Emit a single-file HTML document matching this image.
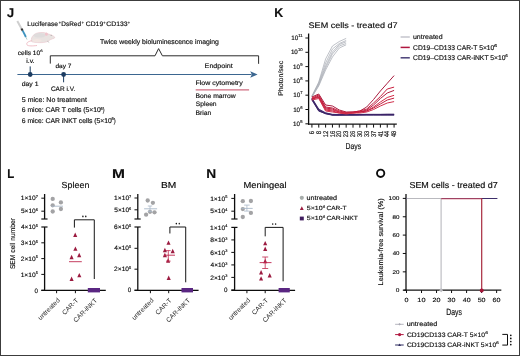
<!DOCTYPE html>
<html><head><meta charset="utf-8"><title>Figure</title>
<style>html,body{margin:0;padding:0;background:#fff;}body{width:520px;height:356px;overflow:hidden;}svg{display:block;}text{font-family:"Liberation Sans", sans-serif;text-rendering:geometricPrecision;}</style>
</head><body>
<svg width="520" height="356" viewBox="0 0 520 356" font-family='"Liberation Sans", sans-serif'>
<rect x="0" y="0" width="520" height="356" fill="#fff"/>
<defs><filter id="soft" x="-2%" y="-2%" width="104%" height="104%"><feGaussianBlur stdDeviation="0.3"/></filter></defs>
<g filter="url(#soft)">
<text x="6.91" y="17.00" textLength="7.14" lengthAdjust="spacingAndGlyphs" font-size="12.60" font-weight="bold" fill="#0d0d0d" stroke="#0d0d0d" stroke-width="0.15">J</text>
<line x1="17.30" y1="21.00" x2="21.40" y2="28.40" stroke="#cfcfcf" stroke-width="2.0"/>
<line x1="21.40" y1="28.40" x2="22.70" y2="30.70" stroke="#333" stroke-width="2.0"/>
<line x1="22.70" y1="30.70" x2="25.90" y2="37.00" stroke="#3d93bf" stroke-width="1.8"/>
<line x1="25.90" y1="37.00" x2="27.00" y2="39.60" stroke="#8aa" stroke-width="0.6"/>
<path d="M31.3,41 C30.8,36.5 34.5,32.8 40.3,32.5 C44,32.3 46.5,33 48.5,34 C50.5,34.5 53.5,35.8 54.8,37.2 C55,38 53.8,38.6 52.5,38.8 C51,39.3 49.5,40 48.5,41 C46,42.6 42,42.8 38,42.6 C34,42.4 31.5,42 31.3,41 Z" fill="#e9e3e1" stroke="#e9bcc4" stroke-width="0.5"/>
<ellipse cx="39.5" cy="35.3" rx="6" ry="2.3" fill="#dcdadb" opacity="0.8"/>
<ellipse cx="37" cy="40.6" rx="4.5" ry="1.6" fill="#f3e6e2" opacity="0.9"/>
<ellipse cx="46.4" cy="34.2" rx="1.4" ry="1.6" fill="#f0c4cc"/>
<circle cx="51.2" cy="35.3" r="0.55" fill="#9a9a9a"/>
<path d="M47.3,41.2 L49.2,42.4" stroke="#a8a8a8" stroke-width="0.6"/>
<path d="M31.5,40.8 C28,41.5 26,43 27,44.8 C28,46.3 33,46 37,45.5" fill="none" stroke="#e9a6b2" stroke-width="0.7"/>
<text x="27.37" y="26.30" textLength="30.62" lengthAdjust="spacingAndGlyphs" font-size="6.50" stroke="#262626" stroke-width="0.15">Luciferase</text>
<text x="58.80" y="23.60" textLength="2.29" lengthAdjust="spacingAndGlyphs" font-size="4.00" stroke="#262626" stroke-width="0.15">+</text>
<text x="61.28" y="26.30" textLength="19.75" lengthAdjust="spacingAndGlyphs" font-size="6.50" stroke="#262626" stroke-width="0.15">DsRed</text>
<text x="81.81" y="23.60" textLength="2.17" lengthAdjust="spacingAndGlyphs" font-size="4.00" stroke="#262626" stroke-width="0.15">+</text>
<text x="85.76" y="26.30" textLength="17.46" lengthAdjust="spacingAndGlyphs" font-size="6.50" stroke="#262626" stroke-width="0.15">CD19</text>
<text x="103.30" y="23.60" textLength="2.29" lengthAdjust="spacingAndGlyphs" font-size="4.00" stroke="#262626" stroke-width="0.15">+</text>
<text x="106.26" y="26.30" textLength="21.37" lengthAdjust="spacingAndGlyphs" font-size="6.50" stroke="#262626" stroke-width="0.15">CD133</text>
<text x="127.70" y="23.60" textLength="2.29" lengthAdjust="spacingAndGlyphs" font-size="4.00" stroke="#262626" stroke-width="0.15">+</text>
<text x="99.96" y="43.80" textLength="118.90" lengthAdjust="spacingAndGlyphs" font-size="6.80" stroke="#262626" stroke-width="0.15">Twice weekly bioluminescence imaging</text>
<polyline points="50.30,63.60 50.30,55.80 155.00,55.80 158.60,48.60 162.40,55.80 258.60,55.80 258.60,63.80" fill="none" stroke="#2c2c2c" stroke-width="1.0"/>
<text x="17.70" y="54.80" textLength="22.47" lengthAdjust="spacingAndGlyphs" font-size="6.30" stroke="#262626" stroke-width="0.15">cells 10</text>
<text x="40.28" y="52.00" textLength="2.42" lengthAdjust="spacingAndGlyphs" font-size="3.40" stroke="#262626" stroke-width="0.15">6</text>
<text x="26.25" y="62.70" textLength="8.29" lengthAdjust="spacingAndGlyphs" font-size="6.30" stroke="#262626" stroke-width="0.15">i.v.</text>
<text x="55.44" y="67.70" textLength="16.00" lengthAdjust="spacingAndGlyphs" font-size="6.10" stroke="#262626" stroke-width="0.15">day 7</text>
<text x="204.63" y="67.70" textLength="28.13" lengthAdjust="spacingAndGlyphs" font-size="6.60" stroke="#262626" stroke-width="0.15">Endpoint</text>
<line x1="17.40" y1="74.50" x2="251.50" y2="74.50" stroke="#3b6690" stroke-width="1.15"/>
<polygon points="257.6,74.5 250.2,71.3 251.8,74.5 250.2,77.7" fill="#3b6690"/>
<line x1="30.20" y1="66.40" x2="30.20" y2="74.40" stroke="#1f3d62" stroke-width="1.0"/>
<line x1="63.60" y1="74.40" x2="63.60" y2="82.30" stroke="#1f3d62" stroke-width="1.0"/>
<circle cx="30.20" cy="74.50" r="2.4" fill="#1f3d62"/>
<circle cx="63.60" cy="74.50" r="2.4" fill="#1f3d62"/>
<text x="21.72" y="85.50" textLength="16.83" lengthAdjust="spacingAndGlyphs" font-size="6.30" stroke="#262626" stroke-width="0.15">day 1</text>
<text x="50.88" y="91.30" textLength="24.32" lengthAdjust="spacingAndGlyphs" font-size="6.60" stroke="#262626" stroke-width="0.15">CAR i.V.</text>
<text x="195.44" y="84.90" textLength="47.29" lengthAdjust="spacingAndGlyphs" font-size="6.50" stroke="#262626" stroke-width="0.15">Flow cytometry</text>
<line x1="195.70" y1="89.80" x2="249.10" y2="89.80" stroke="#cf6c80" stroke-width="1.3"/>
<text x="195.46" y="98.40" textLength="40.32" lengthAdjust="spacingAndGlyphs" font-size="6.50" stroke="#262626" stroke-width="0.15">Bone marrow</text>
<text x="195.70" y="106.40" textLength="20.93" lengthAdjust="spacingAndGlyphs" font-size="6.50" stroke="#262626" stroke-width="0.15">Spleen</text>
<text x="195.45" y="114.60" textLength="15.99" lengthAdjust="spacingAndGlyphs" font-size="6.50" stroke="#262626" stroke-width="0.15">Brian</text>
<text x="21.82" y="101.70" textLength="65.03" lengthAdjust="spacingAndGlyphs" font-size="6.80" stroke="#262626" stroke-width="0.15">5 mice: No treatment</text>
<text x="21.76" y="112.30" textLength="79.13" lengthAdjust="spacingAndGlyphs" font-size="6.80" stroke="#262626" stroke-width="0.15">6 mice: CAR T cells (5×10</text>
<text x="100.60" y="110.00" textLength="2.18" lengthAdjust="spacingAndGlyphs" font-size="4.20" stroke="#262626" stroke-width="0.15">6</text>
<text x="102.65" y="112.30" textLength="1.79" lengthAdjust="spacingAndGlyphs" font-size="6.80" stroke="#262626" stroke-width="0.15">)</text>
<text x="21.76" y="122.70" textLength="90.12" lengthAdjust="spacingAndGlyphs" font-size="6.80" stroke="#262626" stroke-width="0.15">6 mice: CAR iNKT cells (5×10</text>
<text x="111.59" y="120.40" textLength="2.30" lengthAdjust="spacingAndGlyphs" font-size="4.20" stroke="#262626" stroke-width="0.15">6</text>
<text x="113.64" y="122.70" textLength="1.92" lengthAdjust="spacingAndGlyphs" font-size="6.80" stroke="#262626" stroke-width="0.15">)</text>
<text x="274.19" y="17.20" textLength="8.96" lengthAdjust="spacingAndGlyphs" font-size="12.60" font-weight="bold" fill="#0d0d0d" stroke="#0d0d0d" stroke-width="0.15">K</text>
<text x="308.59" y="27.60" textLength="88.98" lengthAdjust="spacingAndGlyphs" font-size="8.10" stroke="#262626" stroke-width="0.15">SEM cells - treated d7</text>
<line x1="308.60" y1="33.50" x2="308.60" y2="124.80" stroke="#111" stroke-width="1.3"/>
<line x1="308.00" y1="124.20" x2="396.80" y2="124.20" stroke="#111" stroke-width="1.3"/>
<line x1="305.40" y1="38.00" x2="308.60" y2="38.00" stroke="#111" stroke-width="1.0"/>
<text x="298.26" y="37.00" textLength="4.36" lengthAdjust="spacingAndGlyphs" font-size="4.20" stroke="#262626" stroke-width="0.15">11</text>
<text x="291.24" y="40.10" textLength="7.01" lengthAdjust="spacingAndGlyphs" font-size="6.30" stroke="#262626" stroke-width="0.15">10</text>
<line x1="305.40" y1="52.30" x2="308.60" y2="52.30" stroke="#111" stroke-width="1.0"/>
<text x="297.91" y="51.30" textLength="4.67" lengthAdjust="spacingAndGlyphs" font-size="4.20" stroke="#262626" stroke-width="0.15">10</text>
<text x="290.88" y="54.40" textLength="7.01" lengthAdjust="spacingAndGlyphs" font-size="6.30" stroke="#262626" stroke-width="0.15">10</text>
<line x1="305.40" y1="66.60" x2="308.60" y2="66.60" stroke="#111" stroke-width="1.0"/>
<text x="300.26" y="65.60" textLength="2.34" lengthAdjust="spacingAndGlyphs" font-size="4.20" stroke="#262626" stroke-width="0.15">9</text>
<text x="293.11" y="68.70" textLength="7.01" lengthAdjust="spacingAndGlyphs" font-size="6.30" stroke="#262626" stroke-width="0.15">10</text>
<line x1="305.40" y1="80.90" x2="308.60" y2="80.90" stroke="#111" stroke-width="1.0"/>
<text x="300.24" y="79.90" textLength="2.34" lengthAdjust="spacingAndGlyphs" font-size="4.20" stroke="#262626" stroke-width="0.15">8</text>
<text x="293.08" y="83.00" textLength="7.01" lengthAdjust="spacingAndGlyphs" font-size="6.30" stroke="#262626" stroke-width="0.15">10</text>
<line x1="305.40" y1="95.20" x2="308.60" y2="95.20" stroke="#111" stroke-width="1.0"/>
<text x="300.28" y="94.20" textLength="2.34" lengthAdjust="spacingAndGlyphs" font-size="4.20" stroke="#262626" stroke-width="0.15">7</text>
<text x="293.15" y="97.30" textLength="7.01" lengthAdjust="spacingAndGlyphs" font-size="6.30" stroke="#262626" stroke-width="0.15">10</text>
<line x1="305.40" y1="109.50" x2="308.60" y2="109.50" stroke="#111" stroke-width="1.0"/>
<text x="300.26" y="108.50" textLength="2.34" lengthAdjust="spacingAndGlyphs" font-size="4.20" stroke="#262626" stroke-width="0.15">6</text>
<text x="293.13" y="111.60" textLength="7.01" lengthAdjust="spacingAndGlyphs" font-size="6.30" stroke="#262626" stroke-width="0.15">10</text>
<line x1="305.40" y1="123.80" x2="308.60" y2="123.80" stroke="#111" stroke-width="1.0"/>
<text x="300.24" y="122.80" textLength="2.34" lengthAdjust="spacingAndGlyphs" font-size="4.20" stroke="#262626" stroke-width="0.15">5</text>
<text x="293.06" y="125.90" textLength="7.01" lengthAdjust="spacingAndGlyphs" font-size="6.30" stroke="#262626" stroke-width="0.15">10</text>
<text x="-0.56" y="0" textLength="35.13" lengthAdjust="spacingAndGlyphs" transform="translate(283.00 95.30) rotate(-90)" font-size="6.70" stroke="#262626" stroke-width="0.15">Photon/sec</text>
<line x1="311.90" y1="124.20" x2="311.90" y2="127.60" stroke="#111" stroke-width="1.0"/>
<text x="-3.10" y="0" font-size="6.9" textLength="3.39" lengthAdjust="spacingAndGlyphs" transform="translate(314.01 131.1) rotate(-90)" fill="#262626" stroke="#262626" stroke-width="0.2">6</text>
<line x1="318.75" y1="124.20" x2="318.75" y2="127.60" stroke="#111" stroke-width="1.0"/>
<text x="-3.07" y="0" font-size="6.9" textLength="3.31" lengthAdjust="spacingAndGlyphs" transform="translate(320.87 131.1) rotate(-90)" fill="#262626" stroke="#262626" stroke-width="0.2">8</text>
<line x1="325.60" y1="124.20" x2="325.60" y2="127.60" stroke="#111" stroke-width="1.0"/>
<text x="-6.24" y="0" font-size="6.9" textLength="6.55" lengthAdjust="spacingAndGlyphs" transform="translate(327.71 131.1) rotate(-90)" fill="#262626" stroke="#262626" stroke-width="0.2">12</text>
<line x1="332.45" y1="124.20" x2="332.45" y2="127.60" stroke="#111" stroke-width="1.0"/>
<text x="-6.24" y="0" font-size="6.9" textLength="6.52" lengthAdjust="spacingAndGlyphs" transform="translate(334.56 131.1) rotate(-90)" fill="#262626" stroke="#262626" stroke-width="0.2">16</text>
<line x1="339.30" y1="124.20" x2="339.30" y2="127.60" stroke="#111" stroke-width="1.0"/>
<text x="-6.08" y="0" font-size="6.9" textLength="6.33" lengthAdjust="spacingAndGlyphs" transform="translate(341.41 131.1) rotate(-90)" fill="#262626" stroke="#262626" stroke-width="0.2">20</text>
<line x1="346.15" y1="124.20" x2="346.15" y2="127.60" stroke="#111" stroke-width="1.0"/>
<text x="-6.09" y="0" font-size="6.9" textLength="6.36" lengthAdjust="spacingAndGlyphs" transform="translate(348.26 131.1) rotate(-90)" fill="#262626" stroke="#262626" stroke-width="0.2">23</text>
<line x1="353.00" y1="124.20" x2="353.00" y2="127.60" stroke="#111" stroke-width="1.0"/>
<text x="-6.09" y="0" font-size="6.9" textLength="6.36" lengthAdjust="spacingAndGlyphs" transform="translate(355.12 131.1) rotate(-90)" fill="#262626" stroke="#262626" stroke-width="0.2">26</text>
<line x1="359.85" y1="124.20" x2="359.85" y2="127.60" stroke="#111" stroke-width="1.0"/>
<text x="-6.03" y="0" font-size="6.9" textLength="6.26" lengthAdjust="spacingAndGlyphs" transform="translate(361.96 131.1) rotate(-90)" fill="#262626" stroke="#262626" stroke-width="0.2">30</text>
<line x1="366.70" y1="124.20" x2="366.70" y2="127.60" stroke="#111" stroke-width="1.0"/>
<text x="-6.03" y="0" font-size="6.9" textLength="6.29" lengthAdjust="spacingAndGlyphs" transform="translate(368.81 131.1) rotate(-90)" fill="#262626" stroke="#262626" stroke-width="0.2">33</text>
<line x1="373.55" y1="124.20" x2="373.55" y2="127.60" stroke="#111" stroke-width="1.0"/>
<text x="-6.03" y="0" font-size="6.9" textLength="6.33" lengthAdjust="spacingAndGlyphs" transform="translate(375.66 131.1) rotate(-90)" fill="#262626" stroke="#262626" stroke-width="0.2">37</text>
<line x1="380.40" y1="124.20" x2="380.40" y2="127.60" stroke="#111" stroke-width="1.0"/>
<text x="-5.94" y="0" font-size="6.9" textLength="6.23" lengthAdjust="spacingAndGlyphs" transform="translate(382.51 131.1) rotate(-90)" fill="#262626" stroke="#262626" stroke-width="0.2">41</text>
<line x1="387.25" y1="124.20" x2="387.25" y2="127.60" stroke="#111" stroke-width="1.0"/>
<text x="-5.94" y="0" font-size="6.9" textLength="6.12" lengthAdjust="spacingAndGlyphs" transform="translate(389.37 131.1) rotate(-90)" fill="#262626" stroke="#262626" stroke-width="0.2">44</text>
<line x1="394.10" y1="124.20" x2="394.10" y2="127.60" stroke="#111" stroke-width="1.0"/>
<text x="-5.94" y="0" font-size="6.9" textLength="6.17" lengthAdjust="spacingAndGlyphs" transform="translate(396.21 131.1) rotate(-90)" fill="#262626" stroke="#262626" stroke-width="0.2">48</text>
<text x="345.45" y="148.80" textLength="15.68" lengthAdjust="spacingAndGlyphs" font-size="8.50" stroke="#262626" stroke-width="0.15">Days</text>
<polyline points="311.90,96.00 318.75,82.00 325.60,59.00 332.45,46.00 339.30,41.50 346.15,38.40" fill="none" stroke="#a9adb5" stroke-width="0.75"/>
<polyline points="311.90,96.50 318.75,83.00 325.60,63.00 332.45,49.00 339.30,43.50 346.15,40.50" fill="none" stroke="#a9adb5" stroke-width="0.75"/>
<polyline points="311.90,96.50 318.75,84.00 325.60,66.00 332.45,52.00 339.30,44.50 346.15,41.80" fill="none" stroke="#a9adb5" stroke-width="0.75"/>
<polyline points="311.90,97.00 318.75,85.00 325.60,68.00 332.45,54.00 339.30,46.00 346.15,43.50" fill="none" stroke="#a9adb5" stroke-width="0.75"/>
<polyline points="311.90,97.00 318.75,86.00 325.60,70.00 332.45,57.00 339.30,48.00 346.15,44.80" fill="none" stroke="#a9adb5" stroke-width="0.75"/>
<polyline points="311.90,98.00 318.75,109.00 325.60,112.80 332.45,114.30 339.30,114.50 346.15,114.40 353.00,114.50 359.85,114.40 366.70,114.30 373.55,114.30 380.40,114.30 387.25,114.20 394.10,114.20" fill="none" stroke="#3b2468" stroke-width="0.8"/>
<polyline points="311.90,98.50 318.75,109.60 325.60,113.00 332.45,114.60 339.30,114.70 346.15,114.70 353.00,114.60 359.85,114.50 366.70,114.50 373.55,114.50 380.40,114.50 387.25,114.40 394.10,114.40" fill="none" stroke="#3b2468" stroke-width="0.8"/>
<polyline points="311.90,99.00 318.75,110.20 325.60,113.30 332.45,114.80 339.30,114.90 346.15,114.70 353.00,114.80 359.85,114.70 366.70,114.60 373.55,114.60 380.40,114.60 387.25,114.60 394.10,114.60" fill="none" stroke="#3b2468" stroke-width="0.8"/>
<polyline points="311.90,99.50 318.75,110.80 325.60,113.60 332.45,115.00 339.30,115.00 346.15,114.90 353.00,114.90 359.85,114.80 366.70,114.80 373.55,114.80 380.40,114.70 387.25,114.80 394.10,114.80" fill="none" stroke="#3b2468" stroke-width="0.8"/>
<polyline points="311.90,100.00 318.75,111.20 325.60,113.40 332.45,114.90 339.30,115.10 346.15,115.00 353.00,115.00 359.85,115.00 366.70,114.90 373.55,114.90 380.40,115.00 387.25,114.90 394.10,114.90" fill="none" stroke="#3b2468" stroke-width="0.8"/>
<polyline points="311.90,99.00 318.75,110.50 325.60,113.80 332.45,115.20 339.30,115.10 346.15,115.10 353.00,115.10 359.85,115.00 366.70,115.00 373.55,115.00 380.40,115.00 387.25,115.00 394.10,115.00" fill="none" stroke="#3b2468" stroke-width="0.8"/>
<polyline points="311.90,97.00 318.75,94.00 325.60,105.00 332.45,106.00 339.30,110.00 346.15,112.00 353.00,112.00 359.85,111.00 366.70,107.00 373.55,99.50 380.40,91.00 387.25,83.30 394.10,75.60" fill="none" stroke="#a81c3e" stroke-width="1.0"/>
<polyline points="311.90,98.00 318.75,95.00 325.60,107.00 332.45,108.00 339.30,111.00 346.15,112.50 353.00,112.00 359.85,111.00 366.70,109.00 373.55,103.00 380.40,96.50 387.25,89.00 394.10,87.10" fill="none" stroke="#c8203f" stroke-width="1.0"/>
<polyline points="311.90,99.00 318.75,96.00 325.60,108.00 332.45,109.00 339.30,112.00 346.15,113.00 353.00,113.00 359.85,112.00 366.70,110.00 373.55,105.00 380.40,98.50 387.25,93.00 394.10,90.40" fill="none" stroke="#b01e40" stroke-width="1.0"/>
<polyline points="311.90,98.00 318.75,97.00 325.60,109.00 332.45,110.00 339.30,112.00 346.15,113.00 353.00,113.00 359.85,112.00 366.70,111.00 373.55,107.00 380.40,102.00 387.25,97.50 394.10,95.30" fill="none" stroke="#d42a48" stroke-width="1.0"/>
<polyline points="311.90,99.00 318.75,97.50 325.60,110.00 332.45,111.00 339.30,113.00 346.15,113.50 353.00,112.50 359.85,112.00 366.70,111.00 373.55,108.00 380.40,104.00 387.25,100.00 394.10,98.10" fill="none" stroke="#c21d3c" stroke-width="1.0"/>
<polyline points="311.90,100.00 318.75,98.50 325.60,111.00 332.45,112.00 339.30,113.00 346.15,114.00 353.00,113.00 359.85,113.00 366.70,112.00 373.55,109.50 380.40,106.00 387.25,103.00 394.10,101.60" fill="none" stroke="#d0304c" stroke-width="1.0"/>
<line x1="400.60" y1="37.00" x2="409.80" y2="37.00" stroke="#c4c4cc" stroke-width="1.5"/>
<line x1="400.60" y1="47.40" x2="409.80" y2="47.40" stroke="#b0173f" stroke-width="1.5"/>
<line x1="400.60" y1="57.80" x2="409.80" y2="57.80" stroke="#4a3f78" stroke-width="1.5"/>
<text x="412.94" y="38.80" textLength="29.72" lengthAdjust="spacingAndGlyphs" font-size="6.70" stroke="#262626" stroke-width="0.15">untreated</text>
<text x="413.06" y="49.70" textLength="81.31" lengthAdjust="spacingAndGlyphs" font-size="6.80" stroke="#262626" stroke-width="0.15">CD19–CD133 CAR-T 5×10</text>
<text x="494.12" y="46.60" textLength="3.14" lengthAdjust="spacingAndGlyphs" font-size="3.80" stroke="#262626" stroke-width="0.15">6</text>
<text x="413.06" y="59.80" textLength="92.43" lengthAdjust="spacingAndGlyphs" font-size="6.80" stroke="#262626" stroke-width="0.15">CD19–CD133 CAR-iNKT 5×10</text>
<text x="505.27" y="56.70" textLength="2.54" lengthAdjust="spacingAndGlyphs" font-size="3.80" stroke="#262626" stroke-width="0.15">6</text>
<text x="7.16" y="177.80" textLength="7.00" lengthAdjust="spacingAndGlyphs" font-size="12.60" font-weight="bold" fill="#0d0d0d" stroke="#0d0d0d" stroke-width="0.15">L</text>
<text x="61.60" y="188.10" textLength="27.77" lengthAdjust="spacingAndGlyphs" font-size="8.70" stroke="#262626" stroke-width="0.15">Spleen</text>
<line x1="44.60" y1="194.00" x2="44.60" y2="219.00" stroke="#111" stroke-width="1.3"/>
<line x1="41.30" y1="219.00" x2="47.50" y2="219.00" stroke="#111" stroke-width="1.2"/>
<line x1="41.30" y1="198.20" x2="44.60" y2="198.20" stroke="#111" stroke-width="1.0"/>
<text x="35.73" y="198.03" textLength="2.17" lengthAdjust="spacingAndGlyphs" font-size="3.90" stroke="#262626" stroke-width="0.15">7</text>
<text x="20.72" y="200.30" textLength="15.09" lengthAdjust="spacingAndGlyphs" font-size="6.30" stroke="#262626" stroke-width="0.15">1×10</text>
<line x1="41.30" y1="211.20" x2="44.60" y2="211.20" stroke="#111" stroke-width="1.0"/>
<text x="35.71" y="211.03" textLength="2.17" lengthAdjust="spacingAndGlyphs" font-size="3.90" stroke="#262626" stroke-width="0.15">6</text>
<text x="20.94" y="213.30" textLength="14.84" lengthAdjust="spacingAndGlyphs" font-size="6.30" stroke="#262626" stroke-width="0.15">5×10</text>
<line x1="44.60" y1="227.00" x2="44.60" y2="290.30" stroke="#111" stroke-width="1.3"/>
<line x1="41.30" y1="227.00" x2="47.50" y2="227.00" stroke="#111" stroke-width="1.2"/>
<text x="35.69" y="226.83" textLength="2.17" lengthAdjust="spacingAndGlyphs" font-size="3.90" stroke="#262626" stroke-width="0.15">5</text>
<text x="20.98" y="229.10" textLength="14.74" lengthAdjust="spacingAndGlyphs" font-size="6.30" stroke="#262626" stroke-width="0.15">4×10</text>
<line x1="41.30" y1="242.80" x2="44.60" y2="242.80" stroke="#111" stroke-width="1.0"/>
<text x="35.69" y="242.63" textLength="2.17" lengthAdjust="spacingAndGlyphs" font-size="3.90" stroke="#262626" stroke-width="0.15">5</text>
<text x="20.88" y="244.90" textLength="14.84" lengthAdjust="spacingAndGlyphs" font-size="6.30" stroke="#262626" stroke-width="0.15">3×10</text>
<line x1="41.30" y1="258.60" x2="44.60" y2="258.60" stroke="#111" stroke-width="1.0"/>
<text x="35.69" y="258.43" textLength="2.17" lengthAdjust="spacingAndGlyphs" font-size="3.90" stroke="#262626" stroke-width="0.15">5</text>
<text x="20.82" y="260.70" textLength="14.91" lengthAdjust="spacingAndGlyphs" font-size="6.30" stroke="#262626" stroke-width="0.15">2×10</text>
<line x1="41.30" y1="274.40" x2="44.60" y2="274.40" stroke="#111" stroke-width="1.0"/>
<text x="35.69" y="274.23" textLength="2.17" lengthAdjust="spacingAndGlyphs" font-size="3.90" stroke="#262626" stroke-width="0.15">5</text>
<text x="20.65" y="276.50" textLength="15.09" lengthAdjust="spacingAndGlyphs" font-size="6.30" stroke="#262626" stroke-width="0.15">1×10</text>
<line x1="41.30" y1="290.30" x2="44.60" y2="290.30" stroke="#111" stroke-width="1.0"/>
<text x="34.46" y="292.50" textLength="3.50" lengthAdjust="spacingAndGlyphs" font-size="6.30" stroke="#262626" stroke-width="0.15">0</text>
<line x1="41.30" y1="290.30" x2="105.80" y2="290.30" stroke="#111" stroke-width="1.3"/>
<line x1="56.60" y1="290.30" x2="56.60" y2="293.20" stroke="#111" stroke-width="1.0"/>
<line x1="75.40" y1="290.30" x2="75.40" y2="293.20" stroke="#111" stroke-width="1.0"/>
<text x="-27.46" y="0" font-size="6.6" transform="translate(60.00 301.0) rotate(-45)" fill="#262626">untreated</text>
<text x="-20.03" y="0" font-size="6.6" transform="translate(78.80 301.0) rotate(-45)" fill="#262626">CAR-T</text>
<text x="-30.66" y="0" font-size="6.6" transform="translate(97.60 301.0) rotate(-45)" fill="#262626">CAR-iNKT</text>
<circle cx="52.70" cy="198.90" r="2.15" fill="#a3a3a5"/>
<circle cx="60.90" cy="202.40" r="2.15" fill="#a3a3a5"/>
<circle cx="52.70" cy="205.30" r="2.15" fill="#a3a3a5"/>
<circle cx="60.90" cy="209.00" r="2.15" fill="#a3a3a5"/>
<circle cx="52.70" cy="211.50" r="2.15" fill="#a3a3a5"/>
<line x1="51.40" y1="206.20" x2="63.00" y2="206.20" stroke="#a9b8c8" stroke-width="0.9"/>
<polygon points="73.15,236.90 77.25,236.90 75.20,232.50" fill="#9b1a3f"/>
<polygon points="73.35,250.80 77.45,250.80 75.40,246.40" fill="#9b1a3f"/>
<polygon points="77.15,257.20 81.25,257.20 79.20,252.80" fill="#9b1a3f"/>
<polygon points="69.55,259.20 73.65,259.20 71.60,254.80" fill="#9b1a3f"/>
<polygon points="77.25,277.30 81.35,277.30 79.30,272.90" fill="#9b1a3f"/>
<polygon points="69.55,280.90 73.65,280.90 71.60,276.50" fill="#9b1a3f"/>
<line x1="69.00" y1="261.70" x2="81.80" y2="261.70" stroke="#c0284e" stroke-width="0.9"/>
<polyline points="74.40,227.60 74.40,219.80 94.30,219.80 94.30,279.00" fill="none" stroke="#1a1a1a" stroke-width="1.0"/>
<ellipse cx="82.90" cy="216.40" rx="0.7" ry="0.85" fill="#111"/>
<ellipse cx="85.80" cy="216.40" rx="0.7" ry="0.85" fill="#111"/>
<rect x="87.80" y="288.0" width="12.20" height="4.4" fill="#5a2682"/>
<text x="112.09" y="177.80" textLength="12.97" lengthAdjust="spacingAndGlyphs" font-size="12.60" font-weight="bold" fill="#0d0d0d" stroke="#0d0d0d" stroke-width="0.15">M</text>
<text x="161.09" y="188.10" textLength="15.28" lengthAdjust="spacingAndGlyphs" font-size="8.70" stroke="#262626" stroke-width="0.15">BM</text>
<line x1="137.80" y1="194.00" x2="137.80" y2="219.00" stroke="#111" stroke-width="1.3"/>
<line x1="134.50" y1="219.00" x2="140.70" y2="219.00" stroke="#111" stroke-width="1.2"/>
<line x1="134.50" y1="198.00" x2="137.80" y2="198.00" stroke="#111" stroke-width="1.0"/>
<text x="129.03" y="197.83" textLength="2.17" lengthAdjust="spacingAndGlyphs" font-size="3.90" stroke="#262626" stroke-width="0.15">7</text>
<text x="114.02" y="200.10" textLength="15.09" lengthAdjust="spacingAndGlyphs" font-size="6.30" stroke="#262626" stroke-width="0.15">1×10</text>
<line x1="134.50" y1="209.80" x2="137.80" y2="209.80" stroke="#111" stroke-width="1.0"/>
<text x="129.01" y="209.63" textLength="2.17" lengthAdjust="spacingAndGlyphs" font-size="3.90" stroke="#262626" stroke-width="0.15">6</text>
<text x="114.24" y="211.90" textLength="14.84" lengthAdjust="spacingAndGlyphs" font-size="6.30" stroke="#262626" stroke-width="0.15">5×10</text>
<line x1="137.80" y1="227.00" x2="137.80" y2="290.30" stroke="#111" stroke-width="1.3"/>
<line x1="134.50" y1="227.00" x2="140.70" y2="227.00" stroke="#111" stroke-width="1.2"/>
<text x="128.99" y="226.83" textLength="2.17" lengthAdjust="spacingAndGlyphs" font-size="3.90" stroke="#262626" stroke-width="0.15">5</text>
<text x="114.12" y="229.10" textLength="14.91" lengthAdjust="spacingAndGlyphs" font-size="6.30" stroke="#262626" stroke-width="0.15">6×10</text>
<line x1="134.50" y1="248.30" x2="137.80" y2="248.30" stroke="#111" stroke-width="1.0"/>
<text x="128.99" y="248.13" textLength="2.17" lengthAdjust="spacingAndGlyphs" font-size="3.90" stroke="#262626" stroke-width="0.15">5</text>
<text x="114.28" y="250.40" textLength="14.74" lengthAdjust="spacingAndGlyphs" font-size="6.30" stroke="#262626" stroke-width="0.15">4×10</text>
<line x1="134.50" y1="269.20" x2="137.80" y2="269.20" stroke="#111" stroke-width="1.0"/>
<text x="128.99" y="269.03" textLength="2.17" lengthAdjust="spacingAndGlyphs" font-size="3.90" stroke="#262626" stroke-width="0.15">5</text>
<text x="114.12" y="271.30" textLength="14.91" lengthAdjust="spacingAndGlyphs" font-size="6.30" stroke="#262626" stroke-width="0.15">2×10</text>
<line x1="134.50" y1="290.20" x2="137.80" y2="290.20" stroke="#111" stroke-width="1.0"/>
<text x="127.76" y="292.40" textLength="3.50" lengthAdjust="spacingAndGlyphs" font-size="6.30" stroke="#262626" stroke-width="0.15">0</text>
<line x1="134.50" y1="290.30" x2="198.60" y2="290.30" stroke="#111" stroke-width="1.3"/>
<line x1="150.40" y1="290.30" x2="150.40" y2="293.20" stroke="#111" stroke-width="1.0"/>
<line x1="168.70" y1="290.30" x2="168.70" y2="293.20" stroke="#111" stroke-width="1.0"/>
<text x="-27.46" y="0" font-size="6.6" transform="translate(153.80 301.0) rotate(-45)" fill="#262626">untreated</text>
<text x="-20.03" y="0" font-size="6.6" transform="translate(172.10 301.0) rotate(-45)" fill="#262626">CAR-T</text>
<text x="-30.66" y="0" font-size="6.6" transform="translate(190.40 301.0) rotate(-45)" fill="#262626">CAR-iNKT</text>
<circle cx="147.70" cy="200.50" r="2.15" fill="#a3a3a5"/>
<circle cx="152.90" cy="202.80" r="2.15" fill="#a3a3a5"/>
<circle cx="150.00" cy="211.80" r="2.15" fill="#a3a3a5"/>
<circle cx="154.50" cy="212.30" r="2.15" fill="#a3a3a5"/>
<circle cx="146.10" cy="214.70" r="2.15" fill="#a3a3a5"/>
<line x1="144.10" y1="208.80" x2="157.10" y2="208.80" stroke="#a9b8c8" stroke-width="0.9"/>
<line x1="150.00" y1="206.00" x2="150.00" y2="211.50" stroke="#a9b8c8" stroke-width="0.8"/>
<line x1="147.80" y1="206.00" x2="152.20" y2="206.00" stroke="#a9b8c8" stroke-width="0.8"/>
<line x1="147.80" y1="211.50" x2="152.20" y2="211.50" stroke="#a9b8c8" stroke-width="0.8"/>
<polygon points="166.45,244.80 170.55,244.80 168.50,240.40" fill="#9b1a3f"/>
<polygon points="162.85,252.20 166.95,252.20 164.90,247.80" fill="#9b1a3f"/>
<polygon points="170.65,253.20 174.75,253.20 172.70,248.80" fill="#9b1a3f"/>
<polygon points="162.85,257.20 166.95,257.20 164.90,252.80" fill="#9b1a3f"/>
<polygon points="166.05,262.70 170.15,262.70 168.10,258.30" fill="#9b1a3f"/>
<polygon points="166.65,280.00 170.75,280.00 168.70,275.60" fill="#9b1a3f"/>
<line x1="163.80" y1="255.20" x2="175.00" y2="255.20" stroke="#c0284e" stroke-width="0.9"/>
<line x1="168.30" y1="250.60" x2="168.30" y2="261.10" stroke="#c0284e" stroke-width="0.8"/>
<line x1="166.00" y1="250.60" x2="170.60" y2="250.60" stroke="#c0284e" stroke-width="0.8"/>
<line x1="166.00" y1="261.10" x2="170.60" y2="261.10" stroke="#c0284e" stroke-width="0.8"/>
<polyline points="169.90,233.50 169.90,227.00 185.70,227.00 185.70,282.30" fill="none" stroke="#1a1a1a" stroke-width="1.0"/>
<ellipse cx="176.35" cy="223.60" rx="0.7" ry="0.85" fill="#111"/>
<ellipse cx="179.25" cy="223.60" rx="0.7" ry="0.85" fill="#111"/>
<rect x="181.50" y="288.0" width="11.50" height="4.4" fill="#5a2682"/>
<text x="206.21" y="177.80" textLength="9.91" lengthAdjust="spacingAndGlyphs" font-size="12.60" font-weight="bold" fill="#0d0d0d" stroke="#0d0d0d" stroke-width="0.15">N</text>
<text x="243.55" y="188.10" textLength="43.10" lengthAdjust="spacingAndGlyphs" font-size="8.70" stroke="#262626" stroke-width="0.15">Meningeal</text>
<line x1="234.60" y1="194.00" x2="234.60" y2="219.00" stroke="#111" stroke-width="1.3"/>
<line x1="231.30" y1="219.00" x2="237.50" y2="219.00" stroke="#111" stroke-width="1.2"/>
<line x1="231.30" y1="198.40" x2="234.60" y2="198.40" stroke="#111" stroke-width="1.0"/>
<text x="225.19" y="198.23" textLength="2.17" lengthAdjust="spacingAndGlyphs" font-size="3.90" stroke="#262626" stroke-width="0.15">5</text>
<text x="210.15" y="200.50" textLength="15.09" lengthAdjust="spacingAndGlyphs" font-size="6.30" stroke="#262626" stroke-width="0.15">1×10</text>
<line x1="231.30" y1="211.20" x2="234.60" y2="211.20" stroke="#111" stroke-width="1.0"/>
<text x="225.15" y="211.03" textLength="2.17" lengthAdjust="spacingAndGlyphs" font-size="3.90" stroke="#262626" stroke-width="0.15">4</text>
<text x="210.29" y="213.30" textLength="14.84" lengthAdjust="spacingAndGlyphs" font-size="6.30" stroke="#262626" stroke-width="0.15">5×10</text>
<line x1="234.60" y1="227.40" x2="234.60" y2="290.30" stroke="#111" stroke-width="1.3"/>
<line x1="231.30" y1="227.40" x2="237.50" y2="227.40" stroke="#111" stroke-width="1.2"/>
<text x="225.15" y="227.23" textLength="2.17" lengthAdjust="spacingAndGlyphs" font-size="3.90" stroke="#262626" stroke-width="0.15">4</text>
<text x="210.05" y="229.50" textLength="15.09" lengthAdjust="spacingAndGlyphs" font-size="6.30" stroke="#262626" stroke-width="0.15">1×10</text>
<line x1="231.30" y1="239.90" x2="234.60" y2="239.90" stroke="#111" stroke-width="1.0"/>
<text x="225.21" y="239.73" textLength="2.17" lengthAdjust="spacingAndGlyphs" font-size="3.90" stroke="#262626" stroke-width="0.15">3</text>
<text x="210.37" y="242.00" textLength="14.88" lengthAdjust="spacingAndGlyphs" font-size="6.30" stroke="#262626" stroke-width="0.15">8×10</text>
<line x1="231.30" y1="252.40" x2="234.60" y2="252.40" stroke="#111" stroke-width="1.0"/>
<text x="225.21" y="252.23" textLength="2.17" lengthAdjust="spacingAndGlyphs" font-size="3.90" stroke="#262626" stroke-width="0.15">3</text>
<text x="210.34" y="254.50" textLength="14.91" lengthAdjust="spacingAndGlyphs" font-size="6.30" stroke="#262626" stroke-width="0.15">6×10</text>
<line x1="231.30" y1="264.90" x2="234.60" y2="264.90" stroke="#111" stroke-width="1.0"/>
<text x="225.21" y="264.73" textLength="2.17" lengthAdjust="spacingAndGlyphs" font-size="3.90" stroke="#262626" stroke-width="0.15">3</text>
<text x="210.50" y="267.00" textLength="14.74" lengthAdjust="spacingAndGlyphs" font-size="6.30" stroke="#262626" stroke-width="0.15">4×10</text>
<line x1="231.30" y1="277.40" x2="234.60" y2="277.40" stroke="#111" stroke-width="1.0"/>
<text x="225.21" y="277.23" textLength="2.17" lengthAdjust="spacingAndGlyphs" font-size="3.90" stroke="#262626" stroke-width="0.15">3</text>
<text x="210.34" y="279.50" textLength="14.91" lengthAdjust="spacingAndGlyphs" font-size="6.30" stroke="#262626" stroke-width="0.15">2×10</text>
<line x1="231.30" y1="289.90" x2="234.60" y2="289.90" stroke="#111" stroke-width="1.0"/>
<text x="223.96" y="292.10" textLength="3.50" lengthAdjust="spacingAndGlyphs" font-size="6.30" stroke="#262626" stroke-width="0.15">0</text>
<line x1="231.30" y1="290.30" x2="295.10" y2="290.30" stroke="#111" stroke-width="1.3"/>
<line x1="246.90" y1="290.30" x2="246.90" y2="293.20" stroke="#111" stroke-width="1.0"/>
<line x1="265.20" y1="290.30" x2="265.20" y2="293.20" stroke="#111" stroke-width="1.0"/>
<text x="-27.46" y="0" font-size="6.6" transform="translate(250.30 301.0) rotate(-45)" fill="#262626">untreated</text>
<text x="-20.03" y="0" font-size="6.6" transform="translate(268.60 301.0) rotate(-45)" fill="#262626">CAR-T</text>
<text x="-30.66" y="0" font-size="6.6" transform="translate(286.90 301.0) rotate(-45)" fill="#262626">CAR-iNKT</text>
<circle cx="242.80" cy="201.20" r="2.15" fill="#a3a3a5"/>
<circle cx="250.90" cy="201.00" r="2.15" fill="#a3a3a5"/>
<circle cx="242.80" cy="209.10" r="2.15" fill="#a3a3a5"/>
<circle cx="250.90" cy="212.90" r="2.15" fill="#a3a3a5"/>
<circle cx="242.80" cy="217.00" r="2.15" fill="#a3a3a5"/>
<line x1="241.50" y1="208.40" x2="252.70" y2="208.40" stroke="#a9b8c8" stroke-width="0.9"/>
<line x1="246.90" y1="205.10" x2="246.90" y2="211.10" stroke="#a9b8c8" stroke-width="0.8"/>
<line x1="244.10" y1="205.10" x2="249.70" y2="205.10" stroke="#a9b8c8" stroke-width="0.8"/>
<line x1="244.10" y1="211.10" x2="249.70" y2="211.10" stroke="#a9b8c8" stroke-width="0.8"/>
<polygon points="263.15,245.30 267.25,245.30 265.20,240.90" fill="#9b1a3f"/>
<polygon points="263.15,250.90 267.25,250.90 265.20,246.50" fill="#9b1a3f"/>
<polygon points="263.15,263.20 267.25,263.20 265.20,258.80" fill="#9b1a3f"/>
<polygon points="259.05,274.50 263.15,274.50 261.10,270.10" fill="#9b1a3f"/>
<polygon points="267.65,277.40 271.75,277.40 269.70,273.00" fill="#9b1a3f"/>
<polygon points="259.05,280.60 263.15,280.60 261.10,276.20" fill="#9b1a3f"/>
<line x1="259.60" y1="262.60" x2="271.50" y2="262.60" stroke="#c0284e" stroke-width="0.9"/>
<line x1="265.20" y1="257.00" x2="265.20" y2="268.50" stroke="#c0284e" stroke-width="0.8"/>
<line x1="262.20" y1="257.00" x2="268.20" y2="257.00" stroke="#c0284e" stroke-width="0.8"/>
<line x1="262.20" y1="268.50" x2="268.20" y2="268.50" stroke="#c0284e" stroke-width="0.8"/>
<polyline points="265.20,236.30 265.20,227.40 283.10,227.40 283.10,281.30" fill="none" stroke="#1a1a1a" stroke-width="1.0"/>
<ellipse cx="272.70" cy="224.00" rx="0.7" ry="0.85" fill="#111"/>
<ellipse cx="275.60" cy="224.00" rx="0.7" ry="0.85" fill="#111"/>
<rect x="278.60" y="288.0" width="11.20" height="4.4" fill="#5a2682"/>
<text x="-0.30" y="0" textLength="51.03" lengthAdjust="spacingAndGlyphs" transform="translate(14.80 268.80) rotate(-90)" font-size="7.00" stroke="#262626" stroke-width="0.15">SEM cell number</text>
<circle cx="301.80" cy="197.80" r="2.1" fill="#a7adab"/>
<polygon points="299.90,210.05 303.70,210.05 301.80,206.35" fill="#9b1a3f"/>
<rect x="299.8" y="216.6" width="4.0" height="3.8" fill="#3f1f5e"/>
<text x="306.53" y="199.60" textLength="30.44" lengthAdjust="spacingAndGlyphs" font-size="6.60" stroke="#262626" stroke-width="0.15">untreated</text>
<text x="306.72" y="210.00" textLength="15.88" lengthAdjust="spacingAndGlyphs" font-size="6.00" stroke="#262626" stroke-width="0.15">5×10</text>
<text x="323.00" y="207.60" textLength="2.18" lengthAdjust="spacingAndGlyphs" font-size="3.70" stroke="#262626" stroke-width="0.15">6</text>
<text x="326.47" y="210.00" textLength="20.06" lengthAdjust="spacingAndGlyphs" font-size="6.00" stroke="#262626" stroke-width="0.15">CAR-T</text>
<text x="306.72" y="219.90" textLength="15.88" lengthAdjust="spacingAndGlyphs" font-size="6.00" stroke="#262626" stroke-width="0.15">5×10</text>
<text x="323.00" y="217.50" textLength="2.18" lengthAdjust="spacingAndGlyphs" font-size="3.70" stroke="#262626" stroke-width="0.15">6</text>
<text x="326.46" y="219.90" textLength="31.38" lengthAdjust="spacingAndGlyphs" font-size="6.00" stroke="#262626" stroke-width="0.15">CAR-iNKT</text>
<circle cx="380.65" cy="173.3" r="3.65" fill="none" stroke="#0d0d0d" stroke-width="1.9"/>
<text x="409.40" y="188.40" textLength="88.38" lengthAdjust="spacingAndGlyphs" font-size="8.60" stroke="#262626" stroke-width="0.15">SEM cells - treated d7</text>
<line x1="406.00" y1="194.00" x2="406.00" y2="290.80" stroke="#111" stroke-width="1.3"/>
<line x1="403.40" y1="290.20" x2="501.30" y2="290.20" stroke="#111" stroke-width="1.3"/>
<line x1="402.80" y1="198.40" x2="406.00" y2="198.40" stroke="#111" stroke-width="1.0"/>
<text x="388.61" y="200.30" textLength="10.87" lengthAdjust="spacingAndGlyphs" font-size="5.50" stroke="#262626" stroke-width="0.15">100</text>
<line x1="402.80" y1="216.76" x2="406.00" y2="216.76" stroke="#111" stroke-width="1.0"/>
<text x="392.52" y="218.66" textLength="6.95" lengthAdjust="spacingAndGlyphs" font-size="5.50" stroke="#262626" stroke-width="0.15">80</text>
<line x1="402.80" y1="235.12" x2="406.00" y2="235.12" stroke="#111" stroke-width="1.0"/>
<text x="392.49" y="237.02" textLength="6.98" lengthAdjust="spacingAndGlyphs" font-size="5.50" stroke="#262626" stroke-width="0.15">60</text>
<line x1="402.80" y1="253.48" x2="406.00" y2="253.48" stroke="#111" stroke-width="1.0"/>
<text x="392.65" y="255.38" textLength="6.81" lengthAdjust="spacingAndGlyphs" font-size="5.50" stroke="#262626" stroke-width="0.15">40</text>
<line x1="402.80" y1="271.84" x2="406.00" y2="271.84" stroke="#111" stroke-width="1.0"/>
<text x="392.49" y="273.74" textLength="6.98" lengthAdjust="spacingAndGlyphs" font-size="5.50" stroke="#262626" stroke-width="0.15">20</text>
<line x1="402.80" y1="290.20" x2="406.00" y2="290.20" stroke="#111" stroke-width="1.0"/>
<text x="395.84" y="292.10" textLength="3.63" lengthAdjust="spacingAndGlyphs" font-size="5.50" stroke="#262626" stroke-width="0.15">0</text>
<line x1="406.50" y1="290.20" x2="406.50" y2="293.00" stroke="#111" stroke-width="1.0"/>
<text x="404.51" y="302.20" textLength="3.98" lengthAdjust="spacingAndGlyphs" font-size="6.00" stroke="#262626" stroke-width="0.15">0</text>
<line x1="421.52" y1="290.20" x2="421.52" y2="293.00" stroke="#111" stroke-width="1.0"/>
<text x="417.32" y="302.20" textLength="8.16" lengthAdjust="spacingAndGlyphs" font-size="6.00" stroke="#262626" stroke-width="0.15">10</text>
<line x1="436.54" y1="290.20" x2="436.54" y2="293.00" stroke="#111" stroke-width="1.0"/>
<text x="432.53" y="302.20" textLength="7.96" lengthAdjust="spacingAndGlyphs" font-size="6.00" stroke="#262626" stroke-width="0.15">20</text>
<line x1="451.56" y1="290.20" x2="451.56" y2="293.00" stroke="#111" stroke-width="1.0"/>
<text x="447.63" y="302.20" textLength="7.88" lengthAdjust="spacingAndGlyphs" font-size="6.00" stroke="#262626" stroke-width="0.15">30</text>
<line x1="466.58" y1="290.20" x2="466.58" y2="293.00" stroke="#111" stroke-width="1.0"/>
<text x="462.76" y="302.20" textLength="7.77" lengthAdjust="spacingAndGlyphs" font-size="6.00" stroke="#262626" stroke-width="0.15">40</text>
<line x1="481.60" y1="290.20" x2="481.60" y2="293.00" stroke="#111" stroke-width="1.0"/>
<text x="477.67" y="302.20" textLength="7.88" lengthAdjust="spacingAndGlyphs" font-size="6.00" stroke="#262626" stroke-width="0.15">50</text>
<line x1="496.62" y1="290.20" x2="496.62" y2="293.00" stroke="#111" stroke-width="1.0"/>
<text x="492.61" y="302.20" textLength="7.96" lengthAdjust="spacingAndGlyphs" font-size="6.00" stroke="#262626" stroke-width="0.15">60</text>
<text x="446.25" y="314.90" textLength="15.57" lengthAdjust="spacingAndGlyphs" font-size="9.00" stroke="#262626" stroke-width="0.15">Days</text>
<text x="-0.58" y="0" textLength="86.95" lengthAdjust="spacingAndGlyphs" transform="translate(382.80 284.80) rotate(-90)" font-size="7.00" stroke="#262626" stroke-width="0.15">Leukemia-free survival (%)</text>
<line x1="406.00" y1="198.50" x2="497.40" y2="198.50" stroke="#3d2f6b" stroke-width="1.1"/>
<line x1="406.60" y1="198.50" x2="441.10" y2="198.50" stroke="#b9b9be" stroke-width="1.1"/>
<line x1="441.10" y1="198.00" x2="441.10" y2="290.20" stroke="#b9b9be" stroke-width="1.1"/>
<line x1="441.10" y1="198.70" x2="481.70" y2="198.70" stroke="#c24a62" stroke-width="1.1"/>
<line x1="481.70" y1="198.20" x2="481.70" y2="290.20" stroke="#a8283f" stroke-width="1.2"/>
<polygon points="441.1,288.2 443.1,290.2 441.1,292.2 439.1,290.2" fill="#b9b9be"/>
<circle cx="481.70" cy="290.40" r="2.0" fill="#a51538"/>
<line x1="395.10" y1="324.30" x2="403.70" y2="324.30" stroke="#b5b5be" stroke-width="1.0"/>
<polygon points="399.6,323.0 400.9,324.3 399.6,325.6 398.3,324.3" fill="#a9a9b3"/>
<line x1="395.10" y1="334.60" x2="403.70" y2="334.60" stroke="#b0173f" stroke-width="1.0"/>
<circle cx="399.60" cy="334.60" r="1.6" fill="#b0173f"/>
<line x1="395.10" y1="345.00" x2="403.70" y2="345.00" stroke="#2e2b5e" stroke-width="1.0"/>
<polygon points="399.6,343.6 401.0,345.9 398.2,345.9" fill="#2e2b5e"/>
<text x="406.83" y="326.30" textLength="30.54" lengthAdjust="spacingAndGlyphs" font-size="6.60" stroke="#262626" stroke-width="0.15">untreated</text>
<text x="406.96" y="336.60" textLength="78.11" lengthAdjust="spacingAndGlyphs" font-size="6.50" stroke="#262626" stroke-width="0.15">CD19CD133 CAR-T 5×10</text>
<text x="485.15" y="333.60" textLength="2.78" lengthAdjust="spacingAndGlyphs" font-size="3.70" stroke="#262626" stroke-width="0.15">6</text>
<text x="406.96" y="346.80" textLength="89.22" lengthAdjust="spacingAndGlyphs" font-size="6.50" stroke="#262626" stroke-width="0.15">CD19CD133 CAR-iNKT 5×10</text>
<text x="496.05" y="343.80" textLength="2.78" lengthAdjust="spacingAndGlyphs" font-size="3.70" stroke="#262626" stroke-width="0.15">6</text>
<polyline points="502.30,334.40 507.50,334.40 507.50,345.10 502.30,345.10" fill="none" stroke="#111" stroke-width="1.0"/>
<circle cx="510.80" cy="335.30" r="0.85" fill="#111"/>
<circle cx="510.80" cy="338.40" r="0.85" fill="#111"/>
<circle cx="510.80" cy="341.50" r="0.85" fill="#111"/>
<circle cx="510.80" cy="344.60" r="0.85" fill="#111"/>
</g>
<rect x="0.5" y="0.5" width="519" height="355" fill="none" stroke="#3c3c3c" stroke-width="1"/>
</svg>
</body></html>
